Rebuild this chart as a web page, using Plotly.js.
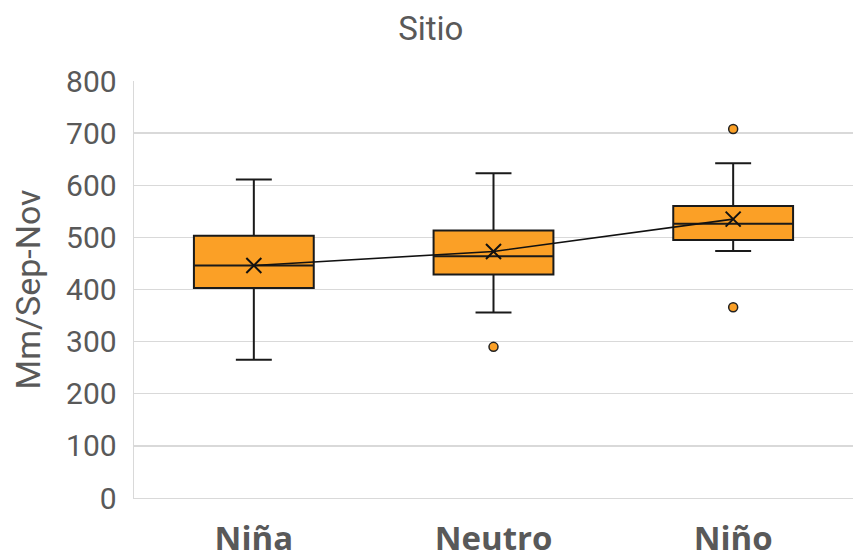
<!DOCTYPE html>
<html><head><meta charset="utf-8">
<script src="https://cdn.plot.ly/plotly-3.0.1.min.js"></script>
<style>html,body{margin:0;padding:0;background:#fff}#c{width:853px;height:560px}</style>
</head><body><div id="c"></div>
<script>
const categories = ['Niña', 'Neutro', 'Niño'];
const lowerWhisker = [265, 356, 474];
const q1Values = [403, 429, 495];
const medianValues = [446, 464, 526];
const q3Values = [503, 513, 560];
const upperWhisker = [611, 623, 642];
const meanValues = [446, 473, 535];
const outlierCats = ['Neutro', 'Niño', 'Niño'];
const outlierValues = [290, 708, 366];
const yTicks = [0, 100, 200, 300, 400, 500, 600, 700, 800];

const grey = '#595959';
const font = "Roboto, 'Open Sans', sans-serif";
const boldFont = "'Open Sans', 'Noto Sans', sans-serif";

const traces = [
  {
    type: 'box', x: categories,
    q1: q1Values, median: medianValues, q3: q3Values,
    lowerfence: lowerWhisker, upperfence: upperWhisker,
    width: 0.5, whiskerwidth: 0.3,
    fillcolor: '#FBA026',
    line: {color: '#1a1a1a', width: 2},
    boxpoints: false, hoverinfo: 'skip', showlegend: false
  },
  {
    type: 'scatter', mode: 'lines+markers', x: categories, y: meanValues,
    line: {color: '#111', width: 1.6},
    marker: {symbol: 'x-thin-open', size: 15, color: '#111', line: {color: '#111', width: 2}},
    showlegend: false, hoverinfo: 'skip'
  },
  {
    type: 'scatter', mode: 'markers', x: outlierCats, y: outlierValues,
    marker: {symbol: 'circle', size: 9, color: '#FBA026', line: {color: '#222', width: 1.5}},
    showlegend: false, hoverinfo: 'skip'
  }
];

const layout = {
  width: 853, height: 560,
  margin: {l: 134, r: 0, t: 81, b: 62},
  paper_bgcolor: '#fff', plot_bgcolor: '#fff',
  title: {text: 'Sitio', font: {family: font, size: 33, color: grey}, x: 0.505, xanchor: 'center', y: 0.95, yanchor: 'middle'},
  xaxis: {
    type: 'category', categoryorder: 'array', categoryarray: categories,
    range: [-0.5, 2.5],
    showgrid: false, zeroline: false, showline: true, linecolor: '#d9d9d9', linewidth: 1.3,
    ticks: '', ticklabelstandoff: 11,
    tickfont: {family: boldFont, size: 33, color: grey, weight: 'bold'}
  },
  yaxis: {
    range: [0, 800], tickvals: yTicks, ticktext: yTicks.map(String),
    showgrid: true, gridcolor: '#d9d9d9', gridwidth: 1.3,
    zeroline: false, showline: true, linecolor: '#d9d9d9', linewidth: 1.3,
    ticks: '', ticklabelstandoff: 10,
    tickfont: {family: font, size: 30, color: grey},
    title: {text: 'Mm/Sep-Nov', font: {family: font, size: 34, color: grey}, standoff: 15}
  }
};

Plotly.newPlot('c', traces, layout, {displayModeBar: false, staticPlot: true});
</script>
</body></html>
